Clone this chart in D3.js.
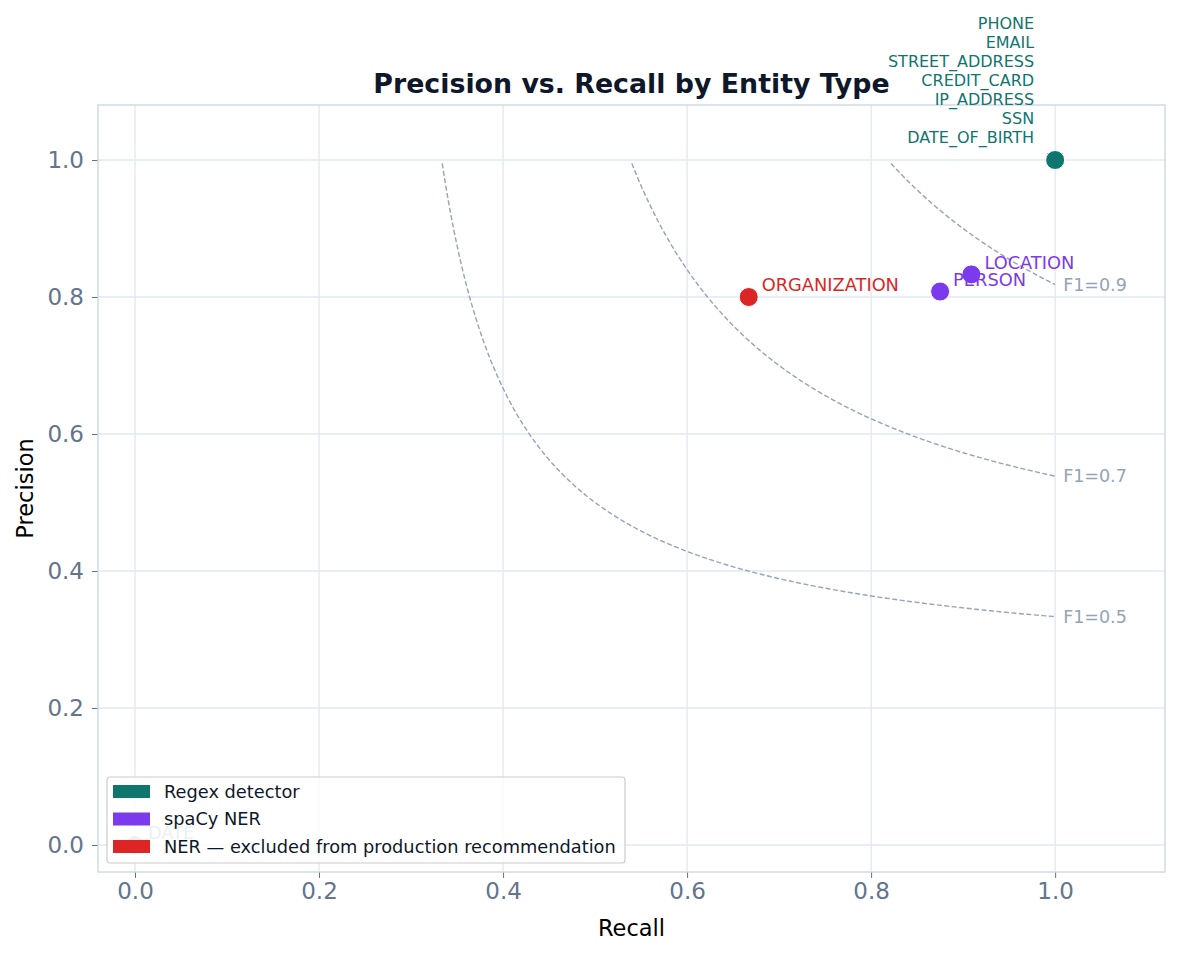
<!DOCTYPE html>
<html>
<head>
<meta charset="utf-8">
<script src="https://cdn.jsdelivr.net/npm/d3@7"></script>
<style>
  body { margin: 0; background: #fff; }
  text { font-family: "DejaVu Sans", sans-serif; }
</style>
</head>
<body>
<div id="chart"></div>
<script>
// entity results: name, detector, recall, precision
const entities = ["PHONE", "EMAIL", "STREET_ADDRESS", "CREDIT_CARD", "IP_ADDRESS", "SSN", "DATE_OF_BIRTH",
                  "LOCATION", "PERSON", "ORGANIZATION", "DATE"];
const detectors = ["regex", "regex", "regex", "regex", "regex", "regex", "regex",
                   "spacy", "spacy", "excluded", "none"];
const recallVals = [1.0, 1.0, 1.0, 1.0, 1.0, 1.0, 1.0, 0.909, 0.875, 0.667, 0.0];
const precisionVals = [1.0, 1.0, 1.0, 1.0, 1.0, 1.0, 1.0, 0.833, 0.808, 0.8, 0.0];

const f1Levels = [0.5, 0.7, 0.9];
const xTicks = [0, 0.2, 0.4, 0.6, 0.8, 1.0];
const yTicks = [0, 0.2, 0.4, 0.6, 0.8, 1.0];

const legendKeys = ["regex", "spacy", "excluded"];
const legendLabels = ["Regex detector", "spaCy NER", "NER \u2014 excluded from production recommendation"];
const colors = { regex: "#0f766e", spacy: "#7c3aed", excluded: "#dc2626", none: "#a9b4c4" };

const width = 1180, height = 956;
const margin = { left: 98, right: 15, top: 105, bottom: 84 };
const innerW = width - margin.left - margin.right;
const innerH = height - margin.top - margin.bottom;

const svg = d3.select("#chart").append("svg")
    .attr("width", width)
    .attr("height", height);

const g = svg.append("g")
    .attr("transform", `translate(${margin.left}, ${margin.top})`);

let x = d3.scaleLinear().domain([-0.0402, 1.1194]).range([0, innerW]);
let y = d3.scaleLinear().domain([-0.0394, 1.0803]).range([innerH, 0]);

// grid
g.append("g").selectAll("line").data(xTicks).enter().append("line")
    .attr("x1", d => x(d)).attr("x2", d => x(d))
    .attr("y1", 0).attr("y2", innerH)
    .attr("stroke", "#e2e8f0").attr("stroke-width", 1.3);
g.append("g").selectAll("line").data(yTicks).enter().append("line")
    .attr("y1", d => y(d)).attr("y2", d => y(d))
    .attr("x1", 0).attr("x2", innerW)
    .attr("stroke", "#e2e8f0").attr("stroke-width", 1.3);

// axes
let xAxis = g.append("g")
    .attr("transform", `translate(0, ${innerH})`)
    .call(d3.axisBottom(x).tickValues(xTicks).tickFormat(d3.format(".1f")).tickSize(6).tickPadding(5));
let yAxis = g.append("g")
    .call(d3.axisLeft(y).tickValues(yTicks).tickFormat(d3.format(".1f")).tickSize(6).tickPadding(8));
[xAxis, yAxis].forEach(a => {
    a.select(".domain").remove();
    a.selectAll(".tick line").attr("stroke", "#64748b").attr("stroke-width", 1);
    a.selectAll(".tick text").attr("fill", "#64748b").style("font-size", "23px")
        .style("font-family", "DejaVu Sans");
});

// frame
g.append("rect")
    .attr("width", innerW).attr("height", innerH)
    .attr("fill", "none").attr("stroke", "#cbd5e1").attr("stroke-width", 1.3);

// iso-F1 curves
f1Levels.forEach(f => {
    let rStart = f * 0.995 / (2 * 0.995 - f);
    let pts = d3.range(0, 201).map(i => rStart + (1 - rStart) * i / 200)
        .map(r => [r, f * r / (2 * r - f)]);
    g.append("path")
        .datum(pts)
        .attr("d", d3.line().x(d => x(d[0])).y(d => y(d[1])))
        .attr("fill", "none")
        .attr("stroke", "#94a3b8")
        .attr("stroke-width", 1.4)
        .attr("stroke-dasharray", "5,2.5");
    g.append("text")
        .attr("x", x(1.0) + 8)
        .attr("y", y(f / (2 - f)))
        .attr("dy", "0.35em")
        .attr("fill", "#94a3b8")
        .style("font-size", "17.5px")
        .text(`F1=${f}`);
});

// points
const pts = entities.map((e, i) => ({ name: e, det: detectors[i], r: recallVals[i], p: precisionVals[i] }));
g.selectAll(".pt").data(pts).enter().append("circle")
    .attr("class", "pt")
    .attr("cx", d => x(d.r)).attr("cy", d => y(d.p))
    .attr("r", 9.5)
    .attr("fill", d => colors[d.det])
    .attr("stroke", "#fff").attr("stroke-width", 1);

// labels: regex ones stacked above the shared point, others offset right
const regexPts = pts.filter(d => d.det === "regex");
g.selectAll(".rlab").data(regexPts).enter().append("text")
    .attr("x", d => x(d.r) - 21)
    .attr("y", (d, i) => y(d.p) - 23 - (regexPts.length - 1 - i) * 19)
    .attr("dy", "0.35em")
    .attr("text-anchor", "end")
    .attr("fill", colors.regex)
    .style("font-size", "16px")
    .text(d => d.name);

g.selectAll(".olab").data(pts.filter(d => d.det !== "regex")).enter().append("text")
    .attr("x", d => x(d.r) + 13)
    .attr("y", d => y(d.p) - 12)
    .attr("dy", "0.35em")
    .attr("fill", d => colors[d.det])
    .style("font-size", "17.8px")
    .text(d => d.name);

// legend
let lg = g.append("g").attr("transform", `translate(9, ${innerH - 95})`);
lg.append("rect")
    .attr("width", 518).attr("height", 86).attr("rx", 3)
    .attr("fill", "#fff").attr("fill-opacity", 0.8)
    .attr("stroke", "#cccccc").attr("stroke-width", 1.2);
legendKeys.forEach((k, i) => {
    lg.append("rect")
        .attr("x", 6).attr("y", 8 + i * 27.5)
        .attr("width", 37).attr("height", 13)
        .attr("fill", colors[k]);
    lg.append("text")
        .attr("x", 57).attr("y", 14.5 + i * 27.5)
        .attr("dy", "0.35em")
        .attr("fill", "#0f172a")
        .style("font-size", "17.8px")
        .text(legendLabels[i]);
});

// titles
svg.append("text")
    .attr("x", margin.left + innerW / 2).attr("y", 93)
    .attr("text-anchor", "middle")
    .attr("fill", "#0f172a")
    .style("font-size", "26.8px").style("font-weight", "bold")
    .text("Precision vs. Recall by Entity Type");
svg.append("text")
    .attr("x", margin.left + innerW / 2).attr("y", 936)
    .attr("text-anchor", "middle")
    .style("font-size", "22.5px")
    .text("Recall");
svg.append("text")
    .attr("transform", `translate(33, ${margin.top + innerH / 2}) rotate(-90)`)
    .attr("text-anchor", "middle")
    .style("font-size", "22.5px")
    .text("Precision");
</script>
</body>
</html>
